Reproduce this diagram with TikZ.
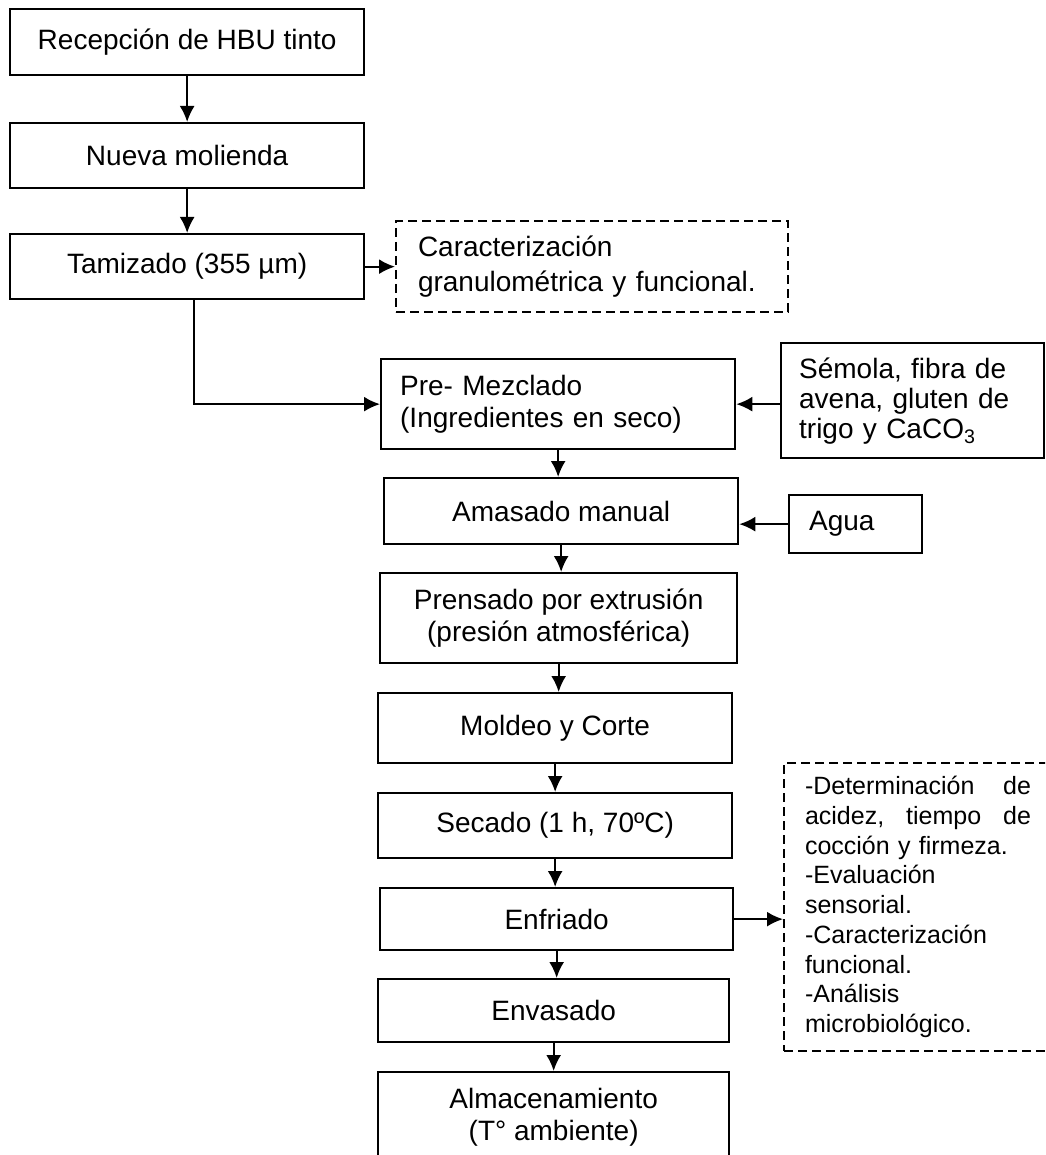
\documentclass[tikz,border=0pt]{standalone}
\usepackage{fontspec}
\setmainfont{Liberation Sans}
\usetikzlibrary{arrows.meta}
\begin{document}
\begin{tikzpicture}[x=1pt, y=-1pt, >={Latex[length=16pt,width=15pt]},
  paso/.style={draw, line width=2.3pt, anchor=north west, inner sep=0pt, align=center,
    font=\fontsize{28pt}{32pt}\selectfont},
  nota/.style={paso, dash pattern=on 9pt off 5pt, line width=2pt},
  flecha/.style={->, line width=2pt}]
\clip (0,0) rectangle (1045,1155);
\node[paso, minimum width=354pt, minimum height=66pt] (recep) at (9,8) {Recepción de HBU tinto};
\node[paso, minimum width=354pt, minimum height=65pt] (molienda) at (9,122) {Nueva molienda};
\node[paso, minimum width=354pt, minimum height=65pt] (tamiz) at (9,233) {Tamizado (355 µm)};
\node[nota, align=left, text width=348pt, inner xsep=22pt, minimum height=91pt,
  font=\fontsize{28pt}{35pt}\selectfont] (caract) at (395,220) {Caracterización\\granulométrica y funcional.};
\node[paso, align=left, text width=316pt, inner xsep=19pt, minimum height=90pt] (premez) at (380,358)
  {Pre- Mezclado\\(Ingredientes en seco)};
\node[paso, align=left, text width=227pt, inner xsep=18pt, minimum height=115pt,
  font=\fontsize{28pt}{30pt}\selectfont] (semola) at (780,342)
  {Sémola, fibra de\\avena, gluten de\\trigo y CaCO\textsubscript{3}};
\node[paso, minimum width=354pt, minimum height=66pt] (amasado) at (383,477) {Amasado manual};
\node[paso, align=left, text width=93pt, inner xsep=20pt, minimum height=58pt] (agua) at (788,494) {Agua};
\node[paso, minimum width=357pt, minimum height=90pt] (prensado) at (379,572)
  {Prensado por extrusión\\(presión atmosférica)};
\node[paso, minimum width=354pt, minimum height=70pt] (moldeo) at (377,692) {Moldeo y Corte};
\node[paso, minimum width=354pt, minimum height=65pt] (secado) at (377,792) {Secado (1 h, 70ºC)};
\node[paso, minimum width=353pt, minimum height=62pt] (enfriado) at (379,887) {Enfriado};
\node[paso, minimum width=351pt, minimum height=63pt] (envasado) at (377,978) {Envasado};
\node[paso, minimum width=351pt, minimum height=90pt] (almacen) at (377,1071)
  {Almacenamiento\\(T° ambiente)};
\node[nota, align=left, text width=226pt, inner xsep=21pt, minimum height=288pt,
  font=\fontsize{25pt}{29.75pt}\selectfont] (analisis) at (783,762)
  {-Determinación\hfill de\\acidez,\hfill tiempo\hfill de\\cocción y firmeza.\\-Evaluación\\sensorial.\\
   -Caracterización\\funcional.\\-Análisis\\microbiológico.};

\draw[flecha] (recep) -- (molienda);
\draw[flecha] (molienda) -- (tamiz);
\draw[flecha] (tamiz.east) -- (tamiz.east -| caract.west);
\draw[flecha] ([xshift=7pt]tamiz.south) |- (premez.west);
\draw[flecha] (premez.east -| semola.west) -- (premez.east);
\draw[flecha] (premez.south) -- (premez.south |- amasado.north);
\draw[flecha] (agua.west) -- (agua.west -| amasado.east);
\draw[flecha] (amasado.south) -- (amasado.south |- prensado.north);
\draw[flecha] (prensado.south) -- (prensado.south |- moldeo.north);
\draw[flecha] (moldeo.south) -- (moldeo.south |- secado.north);
\draw[flecha] (secado.south) -- (secado.south |- enfriado.north);
\draw[flecha] (enfriado.south) -- (enfriado.south |- envasado.north);
\draw[flecha] (envasado.south) -- (envasado.south |- almacen.north);
\draw[flecha] (enfriado.east) -- (enfriado.east -| analisis.west);
\end{tikzpicture}
\end{document}
